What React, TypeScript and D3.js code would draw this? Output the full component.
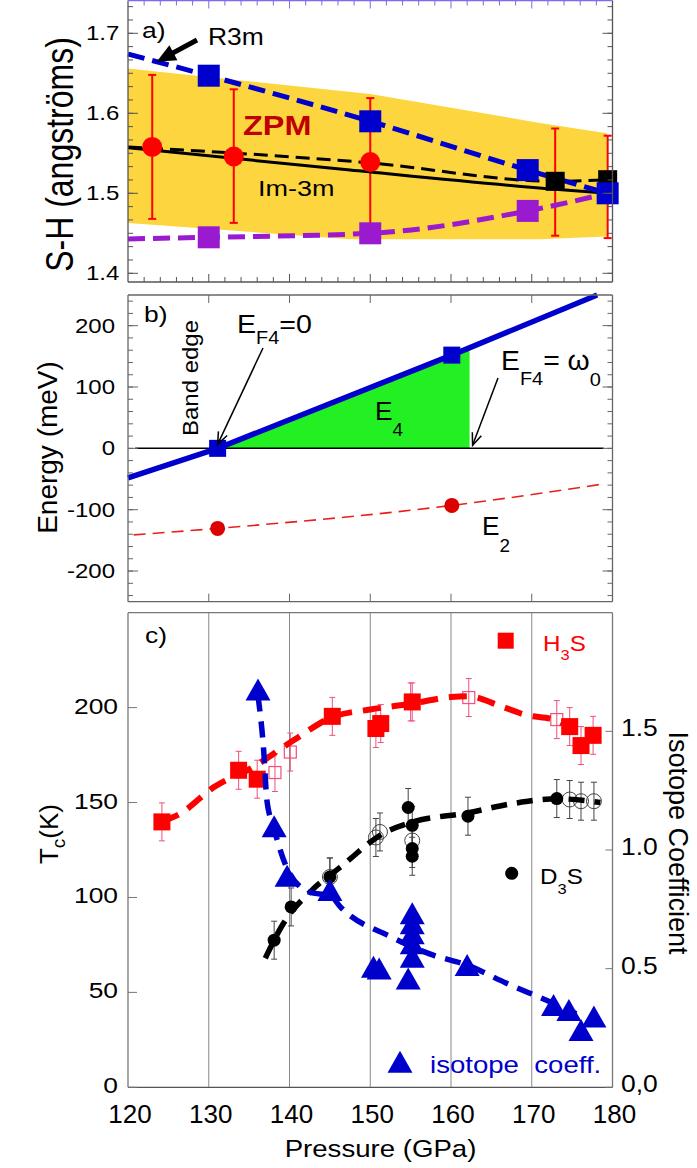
import React from 'react';
import * as d3 from 'd3';

const FONT = "'Liberation Sans', Arial, Helvetica, sans-serif";

// ---------- Panel a : S-H distance ----------
const A_BAND_TOP: number[][] = [[120, 1.656], [150, 1.624], [171, 1.588], [179.3, 1.575]];
const A_BAND_BOT: number[][] = [[120, 1.463], [147.5, 1.4425], [171, 1.4425], [179.3, 1.446]];
const A_R3M: number[][] = [[120, 1.674], [130, 1.647], [150, 1.59], [169.5, 1.529], [179.4, 1.5]];
const A_R3M_SQ: number[][] = [[130, 1.647], [150, 1.59], [169.5, 1.529], [179.4, 1.5]];
const A_PURPLE: number[][] = [[120, 1.443], [130, 1.445], [150, 1.45], [169.5, 1.478], [179.4, 1.5]];
const A_PURPLE_SQ: number[][] = [[130, 1.445], [150, 1.45], [169.5, 1.478]];
const A_IM3M_DASH: number[][] = [[120, 1.558], [150, 1.538], [172.9, 1.515], [179.4, 1.517]];
const A_IM3M_SOLID: number[][] = [[120, 1.557], [147.5, 1.529], [172.9, 1.505], [179.4, 1.5]];
const A_BLACK_SQ: number[][] = [[172.9, 1.515], [179.4, 1.517]];
const A_ZPM_P = [123.0, 133.1, 150.0, 172.9, 179.4];
const A_ZPM_LO = [1.468, 1.463, 1.45, 1.447, 1.444];
const A_ZPM_HI = [1.648, 1.63, 1.619, 1.581, 1.572];
const A_ZPM_DOT: number[][] = [[123.0, 1.558], [133.1, 1.546], [150.0, 1.539]];
const A_YTICKS = [1.4, 1.5, 1.6, 1.7];
const A_ARROW_TIP = [123.55, 1.6645];

// ---------- Panel b : energies ----------
const B_E4_LINE: number[][] = [[120, -48], [131.1, 0], [160.1, 152], [178.1, 250]];
const B_E4_SQ: number[][] = [[131.1, 0], [160.1, 152]];
const B_E4_FILL: number[][] = [[131.1, 0], [160.1, 152], [162.3, 164], [162.3, 0]];
const B_E2_LINE: number[][] = [[120.7, -141], [131.1, -130.5], [160.1, -93], [178.9, -58]];
const B_E2_DOT: number[][] = [[131.1, -130.5], [160.1, -93]];
const B_ZERO: number[][] = [[120.9, 0], [178.9, 0]];
const B_YTICKS = [-200, -100, 0, 100, 200];

// ---------- Panel c : Tc and isotope coefficient ----------
const C_H3S: number[][] = [[124.2, 139.8], [133.7, 167], [136.0, 162.3], [145.3, 195.4], [150.7, 189], [151.3, 191.6],
  [155.2, 203], [174.7, 190], [176.1, 180], [177.6, 185.4]];
const C_H3S_OPEN: number[][] = [[138.2, 165.8], [140.1, 176.6], [155.0, 203], [162.2, 205.3], [173.1, 193.7]];
const C_H3S_ERR = 10;
const C_H3S_FIT: number[][] = [[124.2, 140], [126.4, 144], [130.6, 158], [135.5, 168.7], [140.5, 182.8], [145.3, 195],
  [150, 199], [155, 202], [160, 205.6], [162.2, 206], [166, 201], [169.4, 196], [172.7, 193.7], [175.2, 189], [178, 185.4]];
const C_D3S: number[][] = [[138.1, 77.5], [140.2, 95], [145.0, 110.8], [154.7, 147.4], [155.2, 138], [155.2, 125.8],
  [155.2, 121.7], [162.1, 142.8], [173.1, 152.1]];
const C_D3S_OPEN: number[][] = [[145.0, 110.8], [150.7, 131.6], [151.2, 134.5], [155.2, 130], [174.7, 151.6],
  [176.1, 150.7], [177.7, 150.7]];
const C_D3S_ERR = 10;
const C_D3S_FIT: number[][] = [[137, 68], [139.2, 86], [143, 104.7], [146.3, 116], [151.6, 133.7], [155.3, 139.8],
  [162, 144.5], [167.7, 149.5], [173.1, 152], [178.5, 150]];
const C_ALPHA: number[][] = [[136.1, 1.676], [138.1, 1.1], [139.7, 0.891], [145.0, 0.831], [150.4, 0.508], [151.1, 0.501],
  [154.7, 0.459], [155.2, 0.55], [155.2, 0.607], [155.2, 0.649], [155.2, 0.691], [155.2, 0.733], [162.0, 0.515],
  [172.7, 0.347], [174.6, 0.326], [176.1, 0.241], [177.7, 0.298]];
const C_ALPHA_FIT: number[][] = [[136.1, 1.65], [136.8, 1.42], [137.2, 1.21], [138, 1.1], [139.6, 0.93], [141.3, 0.845],
  [143, 0.818], [145, 0.81], [146.3, 0.76], [152.5, 0.635], [157.8, 0.557], [162, 0.515], [166.9, 0.438],
  [172.7, 0.354], [175.5, 0.31]];
const C_YTICKS = [0, 50, 100, 150, 200];
const C_RTICKS = [0, 0.5, 1.0, 1.5];
const C_RLABELS = ['0,0', '0.5', '1.0', '1.5'];
const X_TICKS = [120, 130, 140, 150, 160, 170, 180];

// ---------- layout ----------
const L = 128, R = 612.5;
const A_T = 0.5, A_B = 282;
const B_T = 295, B_B = 601.7;
const C_T = 612.7, C_B = 1087.3;

const BLUE = '#0000cc';
const PURPLE = '#9a1ad0';
const RED = '#ff0000';
const YELLOW = '#fdd53f';

const x = d3.scaleLinear().domain([120, 180]).range([L, R]);
const yA = d3.scaleLinear().domain([1.4, 1.7]).range([273.3, 33.3]);
const yB = d3.scaleLinear().domain([-250, 250]).range([B_B, B_T]);
const yC = d3.scaleLinear().domain([0, 250]).range([C_B, C_T]);
const yR = d3.scaleLinear().domain([0, 2]).range([C_B, C_T]);

const lineOf = (y: any, curve: any = d3.curveLinear) =>
  d3.line<number[]>().x(d => x(d[0])).y(d => y(d[1])).curve(curve);

const Txt = ({ x: tx, y: ty, size, anchor = 'start', rot = 0, sx = 1.2, fill = '#000', weight = 400, children }: any) => (
  <text transform={`translate(${tx},${ty}) scale(${sx},1)${rot ? ` rotate(${rot})` : ''}`} fontSize={size}
    textAnchor={anchor} fill={fill} fontWeight={weight} fontFamily={FONT} style={{ whiteSpace: 'pre' }}>{children}</text>
);

const Sq = ({ cx, cy, s, fill, stroke = 'none', sw = 1 }: any) => (
  <rect x={cx - s / 2} y={cy - s / 2} width={s} height={s} fill={fill} stroke={stroke} strokeWidth={sw} />
);

const tri = (cx: number, cy: number, w = 25, h = 22) =>
  `M${cx},${cy - h / 2}L${cx + w / 2},${cy + h / 2}L${cx - w / 2},${cy + h / 2}Z`;

const openHead = (x1: number, y1: number, x2: number, y2: number, len = 13, ang = 0.38) => {
  const a = Math.atan2(y2 - y1, x2 - x1);
  const p1 = [x2 - len * Math.cos(a - ang), y2 - len * Math.sin(a - ang)];
  const p2 = [x2 - len * Math.cos(a + ang), y2 - len * Math.sin(a + ang)];
  return `M${p1[0]},${p1[1]}L${x2},${y2}L${p2[0]},${p2[1]}`;
};

function Frame({ top, bottom, y, minorY, majorY, xMinor, xMajor, color = '#666', topColor, majLen = 10, minLen = 5, xLen = 9, xMinLen = 5 }: any) {
  const els: any[] = [];
  els.push(<line key="l" x1={L} x2={L} y1={top} y2={bottom} stroke={color} strokeWidth={1.3} />);
  els.push(<line key="r" x1={R} x2={R} y1={top} y2={bottom} stroke={color} strokeWidth={1.3} />);
  els.push(<line key="b" x1={L} x2={R} y1={bottom} y2={bottom} stroke={color} strokeWidth={1.3} />);
  els.push(<line key="t" x1={L} x2={R} y1={top} y2={top} stroke={topColor || color} strokeWidth={1.3} />);
  (majorY || []).forEach((v: number, i: number) => {
    const yy = y(v);
    els.push(<line key={'ml' + i} x1={L} x2={L + majLen} y1={yy} y2={yy} stroke={color} />);
    els.push(<line key={'mr' + i} x1={R} x2={R - majLen} y1={yy} y2={yy} stroke={color} />);
  });
  (minorY || []).forEach((v: number, i: number) => {
    const yy = y(v);
    if (yy < top + 1 || yy > bottom - 1) return;
    els.push(<line key={'nl' + i} x1={L} x2={L + minLen} y1={yy} y2={yy} stroke={color} />);
    els.push(<line key={'nr' + i} x1={R} x2={R - minLen} y1={yy} y2={yy} stroke={color} />);
  });
  (xMajor || []).forEach((v: number, i: number) => {
    const xx = x(v);
    els.push(<line key={'xb' + i} x1={xx} x2={xx} y1={bottom} y2={bottom - xLen} stroke={color} />);
    els.push(<line key={'xt' + i} x1={xx} x2={xx} y1={top} y2={top + xLen} stroke={topColor || color} />);
  });
  (xMinor || []).forEach((v: number, i: number) => {
    const xx = x(v);
    els.push(<line key={'xnb' + i} x1={xx} x2={xx} y1={bottom} y2={bottom - xMinLen} stroke={color} />);
    els.push(<line key={'xnt' + i} x1={xx} x2={xx} y1={top} y2={top + xMinLen} stroke={topColor || color} />);
  });
  return <g>{els}</g>;
}

export default function App() {
  const xMajorInner = [130, 140, 150, 160, 170];
  const xMinorA = d3.range(122, 180, 2).filter(v => v % 10 !== 0);
  const aMinor = d3.range(0, 21).map(i => 1.4 + i / 60);
  const bMinor = d3.range(-240, 260, 20);

  const bandPts = [...A_BAND_TOP.map(d => [x(d[0]), yA(d[1])]), ...A_BAND_BOT.slice().reverse().map(d => [x(d[0]), yA(d[1])])];
  const bandPath = 'M' + bandPts.map(p => p.join(',')).join('L') + 'Z';
  const e4Fill = 'M' + B_E4_FILL.map(d => `${x(d[0])},${yB(d[1])}`).join('L') + 'Z';

  // annotation anchors derived from data
  const bandEdgeX = x(B_E4_SQ[0][0]), bandEdgeY = yB(B_E4_SQ[0][1]);
  const omegaX = x(B_E4_FILL[2][0]) + 3, omegaY = yB(0);

  // thick arrow of panel a
  const tipX = x(A_ARROW_TIP[0]), tipY = yA(A_ARROW_TIP[1]);
  const sX = 197, sY = 40;
  const ul = Math.hypot(tipX - sX, tipY - sY);
  const ux = (tipX - sX) / ul, uy = (tipY - sY) / ul;
  const bx = tipX - 19 * ux, by = tipY - 19 * uy;
  const nx = -uy * 8.5, ny = ux * 8.5;

  return (
    <svg width={697} height={1168} style={{ position: 'absolute', left: 0, top: 0, background: '#fff' }}>
      <rect x={0} y={0} width={697} height={1168} fill="#fff" />

      {/* ================= Panel a ================= */}
      <path d={bandPath} fill={YELLOW} />
      {A_ZPM_P.map((p, i) => (
        <g key={'eb' + i} stroke={RED} strokeWidth={2}>
          <line x1={x(p)} x2={x(p)} y1={yA(A_ZPM_LO[i])} y2={yA(A_ZPM_HI[i])} />
          <line x1={x(p) - 4} x2={x(p) + 4} y1={yA(A_ZPM_LO[i])} y2={yA(A_ZPM_LO[i])} />
          <line x1={x(p) - 4} x2={x(p) + 4} y1={yA(A_ZPM_HI[i])} y2={yA(A_ZPM_HI[i])} />
        </g>
      ))}
      <path d={lineOf(yA, d3.curveMonotoneX)(A_IM3M_SOLID as any) || ''} fill="none" stroke="#000" strokeWidth={3} />
      <path d={lineOf(yA, d3.curveMonotoneX)(A_IM3M_DASH as any) || ''} fill="none" stroke="#000" strokeWidth={3} strokeDasharray="14 7" />
      <path d={lineOf(yA, d3.curveMonotoneX)(A_PURPLE as any) || ''} fill="none" stroke={PURPLE} strokeWidth={5} strokeDasharray="17 8" />
      <path d={lineOf(yA, d3.curveMonotoneX)(A_R3M as any) || ''} fill="none" stroke={BLUE} strokeWidth={5} strokeDasharray="17 8" />
      {A_ZPM_DOT.map((d, i) => <circle key={'zd' + i} cx={x(d[0])} cy={yA(d[1])} r={10} fill={RED} />)}
      {A_BLACK_SQ.map((d, i) => <Sq key={'bs' + i} cx={x(d[0])} cy={yA(d[1])} s={19} fill="#000" />)}
      {A_PURPLE_SQ.map((d, i) => <Sq key={'ps' + i} cx={x(d[0])} cy={yA(d[1])} s={22} fill={PURPLE} />)}
      {A_R3M_SQ.map((d, i) => <Sq key={'rs' + i} cx={x(d[0])} cy={yA(d[1])} s={22} fill={BLUE} />)}
      <Frame top={A_T} bottom={A_B} y={yA} majorY={A_YTICKS} minorY={aMinor} xMajor={xMajorInner} xMinor={xMinorA}
        color="#555" topColor="#7a6cf0" majLen={10} minLen={5} xLen={8} xMinLen={5} />
      {A_YTICKS.map(v => <Txt key={'ay' + v} x={119.3} y={yA(v) + 7} size={20} anchor="end">{v.toFixed(1)}</Txt>)}
      <Txt x={73} y={154.5} size={32} rot={-90} anchor="middle">S-H (angströms)</Txt>
      <Txt x={142} y={38} size={22}>a)</Txt>
      <Txt x={208} y={45} size={23} sx={1.15}>R3m</Txt>
      <Txt x={243} y={135} size={27} weight={700} fill="#c00000">ZPM</Txt>
      <Txt x={258} y={196} size={22.5}>Im-3m</Txt>
      {/* thick arrow to R3m line */}
      <line x1={sX} y1={sY} x2={bx + ux * 2} y2={by + uy * 2} stroke="#000" strokeWidth={5} />
      <path d={`M${tipX},${tipY}L${bx + nx},${by + ny}L${bx - nx},${by - ny}Z`} fill="#000" />

      {/* ================= Panel b ================= */}
      <path d={e4Fill} fill="#22f022" />
      <path d={lineOf(yB)(B_ZERO as any) || ''} stroke="#000" strokeWidth={1.5} fill="none" />
      <path d={lineOf(yB, d3.curveMonotoneX)(B_E2_LINE as any) || ''} stroke="#e8201c" strokeWidth={1.6} fill="none" strokeDasharray="12 7" />
      {B_E2_DOT.map((d, i) => <circle key={'e2' + i} cx={x(d[0])} cy={yB(d[1])} r={7.5} fill="#dd0000" />)}
      <path d={lineOf(yB)(B_E4_LINE as any) || ''} stroke={BLUE} strokeWidth={5.5} fill="none" />
      {B_E4_SQ.map((d, i) => <Sq key={'e4' + i} cx={x(d[0])} cy={yB(d[1])} s={17} fill={BLUE} />)}
      <Frame top={B_T} bottom={B_B} y={yB} majorY={B_YTICKS} minorY={bMinor} xMajor={xMajorInner} xMinor={[]}
        color="#666" majLen={10} minLen={5} xLen={8} />
      {B_YTICKS.map(v => <Txt key={'by' + v} x={115} y={yB(v) + 7} size={20} anchor="end">{String(v)}</Txt>)}
      <Txt x={56.7} y={447.5} size={28} sx={1.0} rot={-90} anchor="middle">Energy (meV)</Txt>
      <Txt x={144} y={321.7} size={22}>b)</Txt>
      <Txt x={197.5} y={378} size={24} sx={0.9} rot={-90} anchor="middle">Band edge</Txt>
      <Txt x={237} y={332.7} size={26} sx={1.1}>E<tspan fontSize={18} dy={11}>F4</tspan><tspan dy={-11}>=0</tspan></Txt>
      <line x1={263} y1={348} x2={bandEdgeX} y2={bandEdgeY - 4} stroke="#000" strokeWidth={1.5} />
      <path d={openHead(263, 348, bandEdgeX, bandEdgeY - 4)} stroke="#000" strokeWidth={1.5} fill="none" />
      <Txt x={501} y={370} size={27} sx={1.05}>E<tspan fontSize={19} dy={15}>F4</tspan><tspan dy={-15}>= ω</tspan><tspan fontSize={19} dy={16}>0</tspan></Txt>
      <line x1={498} y1={378} x2={omegaX} y2={omegaY - 3} stroke="#000" strokeWidth={1.5} />
      <path d={openHead(498, 378, omegaX, omegaY - 3)} stroke="#000" strokeWidth={1.5} fill="none" />
      <Txt x={375} y={420} size={25} sx={1.05}>E<tspan fontSize={18} dy={16}>4</tspan></Txt>
      <Txt x={482} y={535} size={25} sx={1.05}>E<tspan fontSize={18} dy={17}>2</tspan></Txt>

      {/* ================= Panel c ================= */}
      {xMajorInner.map(v => <line key={'g' + v} x1={x(v)} x2={x(v)} y1={C_T} y2={C_B} stroke="#888" strokeWidth={1} />)}
      <line x1={L} x2={L} y1={C_T} y2={C_B} stroke="#777" strokeWidth={1.3} />
      <line x1={R} x2={R} y1={C_T} y2={C_B} stroke="#777" strokeWidth={1.3} />
      <line x1={L} x2={R} y1={C_T} y2={C_T} stroke="#777" strokeWidth={1.3} />
      <line x1={L} x2={R} y1={C_B} y2={C_B} stroke="#555" strokeWidth={1.3} />
      {C_YTICKS.map(v => <line key={'ct' + v} x1={L} x2={L + 9} y1={yC(v)} y2={yC(v)} stroke="#777" />)}
      {C_RTICKS.map(v => <line key={'cr' + v} x1={R} x2={R - 7} y1={yR(v)} y2={yR(v)} stroke="#777" />)}

      {/* H3S */}
      {[...C_H3S, ...C_H3S_OPEN].map((d, i) => (
        <g key={'he' + i} stroke="#f0507a" strokeWidth={1}>
          <line x1={x(d[0])} x2={x(d[0])} y1={yC(d[1] - C_H3S_ERR)} y2={yC(d[1] + C_H3S_ERR)} />
          <line x1={x(d[0]) - 3} x2={x(d[0]) + 3} y1={yC(d[1] - C_H3S_ERR)} y2={yC(d[1] - C_H3S_ERR)} />
          <line x1={x(d[0]) - 3} x2={x(d[0]) + 3} y1={yC(d[1] + C_H3S_ERR)} y2={yC(d[1] + C_H3S_ERR)} />
        </g>
      ))}
      {C_H3S_OPEN.map((d, i) => <Sq key={'ho' + i} cx={x(d[0])} cy={yC(d[1])} s={12} fill="none" stroke="#f0507a" sw={1.2} />)}
      <path d={lineOf(yC, d3.curveMonotoneX)(C_H3S_FIT as any) || ''} fill="none" stroke={RED} strokeWidth={6} strokeDasharray="18 11" />
      {C_H3S.map((d, i) => <Sq key={'hs' + i} cx={x(d[0])} cy={yC(d[1])} s={17} fill={RED} />)}

      {/* D3S */}
      {[...C_D3S, ...C_D3S_OPEN].map((d, i) => (
        <g key={'de' + i} stroke="#444" strokeWidth={1}>
          <line x1={x(d[0])} x2={x(d[0])} y1={yC(d[1] - C_D3S_ERR)} y2={yC(d[1] + C_D3S_ERR)} />
          <line x1={x(d[0]) - 3} x2={x(d[0]) + 3} y1={yC(d[1] - C_D3S_ERR)} y2={yC(d[1] - C_D3S_ERR)} />
          <line x1={x(d[0]) - 3} x2={x(d[0]) + 3} y1={yC(d[1] + C_D3S_ERR)} y2={yC(d[1] + C_D3S_ERR)} />
        </g>
      ))}
      {C_D3S_OPEN.map((d, i) => <circle key={'do' + i} cx={x(d[0])} cy={yC(d[1])} r={7.5} fill="none" stroke="#444" strokeWidth={1} />)}
      <path d={lineOf(yC, d3.curveMonotoneX)(C_D3S_FIT as any) || ''} fill="none" stroke="#000" strokeWidth={5.5} strokeDasharray="16 10" />
      {C_D3S.map((d, i) => <circle key={'ds' + i} cx={x(d[0])} cy={yC(d[1])} r={6.5} fill="#000" />)}

      {/* isotope coefficient */}
      <path d={lineOf(yR, d3.curveMonotoneX)(C_ALPHA_FIT as any) || ''} fill="none" stroke={BLUE} strokeWidth={5.5} strokeDasharray="16 10" />
      {C_ALPHA.map((d, i) => <path key={'al' + i} d={tri(x(d[0]), yR(d[1]))} fill={BLUE} />)}

      {C_YTICKS.map(v => <Txt key={'cy' + v} x={118} y={yC(v) + 6} size={22} anchor="end">{String(v)}</Txt>)}
      {C_RTICKS.map((v, i) => <Txt key={'cry' + i} x={621} y={yR(v) + 5} size={23} sx={1.15}>{C_RLABELS[i]}</Txt>)}
      {X_TICKS.map(v => <Txt key={'cx' + v} x={x(v) + 2} y={1123} size={26} sx={1.0} anchor="middle">{String(v)}</Txt>)}
      <Txt x={380.5} y={1157} size={24} sx={1.15} anchor="middle">Pressure (GPa)</Txt>
      <Txt x={58} y={834} size={26} sx={1.0} rot={-90} anchor="middle">T<tspan fontSize={19} dy={7}>c</tspan><tspan dy={-7}>(K)</tspan></Txt>
      <Txt x={669} y={843} size={27} sx={1.0} rot={90} anchor="middle">Isotope Coefficient</Txt>
      <Txt x={145} y={643} size={22}>c)</Txt>

      {/* legends */}
      <Sq cx={505.7} cy={640.7} s={16} fill={RED} />
      <Txt x={543} y={651} size={22} sx={1.1} fill={RED}>H<tspan fontSize={15} dy={9}>3</tspan><tspan dy={-9}>S</tspan></Txt>
      <circle cx={511.7} cy={873.3} r={6.5} fill="#000" />
      <Txt x={540} y={884} size={22} sx={1.1}>D<tspan fontSize={15} dy={10}>3</tspan><tspan dy={-10}>S</tspan></Txt>
      <path d={tri(400, 1061.7)} fill={BLUE} />
      <Txt x={430} y={1073} size={23} sx={1.2} fill={BLUE}>{'isotope  coeff.'}</Txt>
    </svg>
  );
}
